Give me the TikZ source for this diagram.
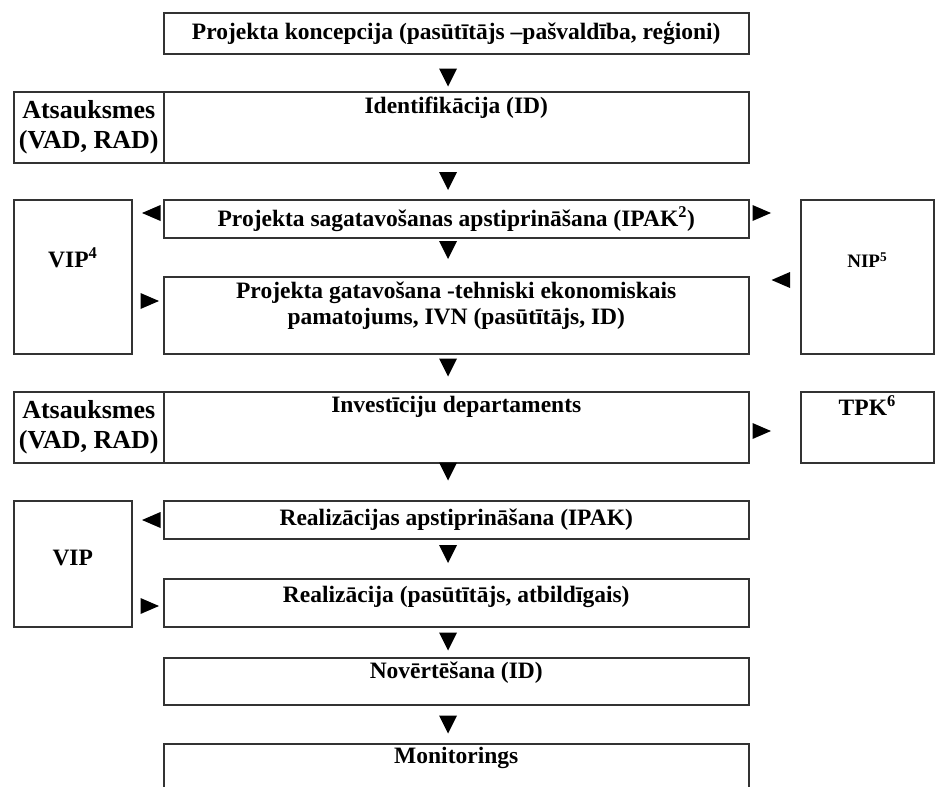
\documentclass[tikz,border=0pt]{standalone}
\usepackage{fontspec}
\setmainfont{Liberation Serif}
\usetikzlibrary{calc}
\tikzset{
  box/.style={draw=black!80, line width=1.5pt, inner sep=0pt, anchor=north west, fill=white},
  txt/.style={font=\bfseries\fontsize{23.5}{25.5}\selectfont, inner sep=0pt, align=center},
  bigtxt/.style={font=\bfseries\fontsize{26}{30}\selectfont, inner sep=0pt, align=center},
  smalltxt/.style={font=\bfseries\fontsize{19}{22}\selectfont, inner sep=0pt, align=center},
  tri/.style={fill=black},
}
\newcommand\dtri[1]{\fill[tri] ($#1+(-9,-9)$) -- ($#1+(9,-9)$) -- ($#1+(0,9)$) -- cycle;}
\newcommand\ltri[1]{\fill[tri] ($#1+(9,-8)$) -- ($#1+(9,8)$) -- ($#1+(-9.5,0)$) -- cycle;}
\newcommand\rtri[1]{\fill[tri] ($#1+(-9,-8)$) -- ($#1+(-9,8)$) -- ($#1+(9.5,0)$) -- cycle;}
\begin{document}
\begin{tikzpicture}[x=1pt,y=-1pt]
\useasboundingbox (0,0) rectangle (937,787);
\clip (0,0) rectangle (937,787);
\fill[white] (0,0) rectangle (937,787);

% row 1
\node[box, minimum width=585pt, minimum height=41pt] (concept) at (163,12) {};
\node[txt] (conceptT) at (concept.center) {Projekta koncepcija (pasūtītājs –pašvaldība, reģioni)};

% row 2
\node[box, minimum width=150pt, minimum height=71pt] (fb1) at (13,91) {};
\node[box, minimum width=585pt, minimum height=71pt] (ident) at (163,91) {};
\node[bigtxt] (fb1T) at (fb1.center) {Atsauksmes\\(VAD, RAD)};
\node[txt] (identT) at ([yshift=-17pt]ident.north) {Identifikācija (ID)};

% row 3
\node[box, minimum width=118pt, minimum height=154pt] (vip1) at (13,199) {};
\node[txt] (vip1T) at ([yshift=-59pt]vip1.north) {VIP\textsuperscript{4}};
\node[box, minimum width=585pt, minimum height=38pt] (approve) at (163,199) {};
\node[txt] (approveT) at (approve.center) {Projekta sagatavošanas apstiprināšana (IPAK\textsuperscript{2})};
\node[box, minimum width=585pt, minimum height=77pt] (prep) at (163,276) {};
\node[txt] (prepT) at ([yshift=-29.5pt]prep.north) {Projekta gatavošana -tehniski ekonomiskais\\pamatojums, IVN (pasūtītājs, ID)};
\node[box, minimum width=133pt, minimum height=154pt] (nip) at (800,199) {};
\node[smalltxt] (nipT) at ([yshift=-61pt]nip.north) {NIP\textsuperscript{5}};

% row 4
\node[box, minimum width=150pt, minimum height=71pt] (fb2) at (13,391) {};
\node[box, minimum width=585pt, minimum height=71pt] (invest) at (163,391) {};
\node[bigtxt] (fb2T) at (fb2.center) {Atsauksmes\\(VAD, RAD)};
\node[txt] (investT) at ([yshift=-16pt]invest.north) {Investīciju departaments};
\node[box, minimum width=133pt, minimum height=71pt] (tpk) at (800,391) {};
\node[txt] (tpkT) at ([yshift=-15pt]tpk.north) {TPK\textsuperscript{6}};

% row 5
\node[box, minimum width=118pt, minimum height=126pt] (vip2) at (13,500) {};
\node[txt] (vip2T) at ([yshift=-58pt]vip2.north) {VIP};
\node[box, minimum width=585pt, minimum height=38pt] (real1) at (163,500) {};
\node[txt] (real1T) at (real1.center) {Realizācijas apstiprināšana (IPAK)};
\node[box, minimum width=585pt, minimum height=48pt] (real2) at (163,578) {};
\node[txt] (real2T) at ([yshift=-19pt]real2.north) {Realizācija (pasūtītājs, atbildīgais)};

% rows 6-7
\node[box, minimum width=585pt, minimum height=47pt] (eval) at (163,657) {};
\node[txt] (evalT) at ([yshift=-16pt]eval.north) {Novērtēšana (ID)};
\node[box, minimum width=585pt, minimum height=80pt] (mon) at (163,743) {};
\node[txt] (monT) at ([yshift=-15pt]mon.north) {Monitorings};

% down arrowheads
\dtri{(448,77.5)}
\dtri{(448,181)}
\dtri{(448,250)}
\dtri{(448,367.5)}
\dtri{(448,471.5)}
\dtri{(448,554)}
\dtri{(448,641.5)}
\dtri{(448,724.5)}

% side arrowheads
\ltri{(151.5,213)}
\rtri{(761.5,213)}
\rtri{(149.5,301)}
\ltri{(781,280)}
\rtri{(761.5,431)}
\ltri{(151.5,520)}
\rtri{(149.5,606)}
\end{tikzpicture}
\end{document}
